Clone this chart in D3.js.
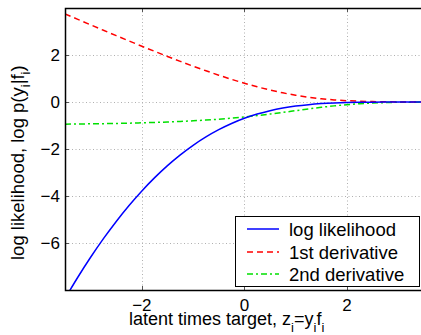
<!DOCTYPE html>
<html>
<head>
<meta charset="utf-8">
<script src="https://cdn.jsdelivr.net/npm/d3@7"></script>
<style>
body { margin: 0; background: #fff; }
svg text { font-family: "Liberation Sans", Arial, sans-serif; fill: #000; }
</style>
</head>
<body>
<div id="chart"></div>
<script>
// values
let zValues = [-3.5, -3.25, -3, -2.75, -2.5, -2.25, -2, -1.75, -1.5, -1.25, -1, -0.75, -0.5, -0.25,
	0, 0.25, 0.5, 0.75, 1, 1.25, 1.5, 1.75, 2, 2.25, 2.5, 2.75, 3, 3.25, 3.5];
let logLik = [-8.366, -7.458, -6.608, -5.816, -5.082, -4.404, -3.783, -3.217, -2.706, -2.248, -1.841, -1.484, -1.176, -0.913,
	-0.693, -0.513, -0.369, -0.257, -0.173, -0.112, -0.069, -0.041, -0.023, -0.012, -0.006, -0.003, -0.001, -0.001, 0];
let firstDeriv = [3.752, 3.516, 3.283, 3.052, 2.823, 2.597, 2.373, 2.154, 1.939, 1.729, 1.525, 1.329, 1.141, 0.964,
	0.798, 0.646, 0.509, 0.389, 0.288, 0.204, 0.139, 0.090, 0.055, 0.032, 0.018, 0.009, 0.004, 0.002, 0.001];
let secondDeriv = [-0.945, -0.935, -0.929, -0.922, -0.911, -0.901, -0.885, -0.870, -0.851, -0.828, -0.801, -0.769, -0.731, -0.688,
	-0.637, -0.579, -0.514, -0.444, -0.370, -0.297, -0.227, -0.165, -0.114, -0.073, -0.044, -0.025, -0.013, -0.007, -0.003];
let xTicks = [-2, 0, 2];
let yTicks = [-6, -4, -2, 0, 2];
let seriesNames = ["log likelihood", "1st derivative", "2nd derivative"];

var W = 421, H = 335;
var pLeft = 65, pTop = 8, pRight = 423.75, pBottom = 290;

var svg = d3.select("#chart").append("svg")
	.attr("width", W)
	.attr("height", H);

var x = d3.scaleLinear().domain([-3.5, 3.5]).range([pLeft, pRight]);
var y = d3.scaleLinear().domain([-8, 4]).range([pBottom, pTop]);

svg.append("clipPath").attr("id", "clip")
	.append("rect")
	.attr("x", pLeft).attr("y", pTop)
	.attr("width", pRight - pLeft).attr("height", pBottom - pTop);

// grid
var grid = svg.append("g").attr("stroke", "#b0b0b0").attr("stroke-width", 1).attr("stroke-dasharray", "1,2.5");
grid.selectAll(".gx").data(xTicks).enter().append("line")
	.attr("x1", d => Math.round(x(d)) + 0.5).attr("x2", d => Math.round(x(d)) + 0.5)
	.attr("y1", pTop).attr("y2", pBottom);
grid.selectAll(".gy").data(yTicks).enter().append("line")
	.attr("y1", d => Math.round(y(d)) + 0.5).attr("y2", d => Math.round(y(d)) + 0.5)
	.attr("x1", pLeft).attr("x2", pRight);

// tick marks (inside)
var ticks = svg.append("g").attr("stroke", "#555").attr("stroke-width", 1);
ticks.selectAll(".tx").data(xTicks).enter().append("line")
	.attr("x1", d => Math.round(x(d)) + 0.5).attr("x2", d => Math.round(x(d)) + 0.5)
	.attr("y1", pBottom).attr("y2", pBottom - 4);
ticks.selectAll(".tx2").data(xTicks).enter().append("line")
	.attr("x1", d => Math.round(x(d)) + 0.5).attr("x2", d => Math.round(x(d)) + 0.5)
	.attr("y1", pTop).attr("y2", pTop + 4);
ticks.selectAll(".ty").data(yTicks).enter().append("line")
	.attr("y1", d => Math.round(y(d)) + 0.5).attr("y2", d => Math.round(y(d)) + 0.5)
	.attr("x1", pLeft).attr("x2", pLeft + 4);

// curves
var colors = ["#0000ff", "#ff0000", "#00e000"];
var dashes = [null, "6,4", "6,3,2,3"];
var allSeries = [logLik, firstDeriv, secondDeriv];
var line = d3.line()
	.x((d, i) => x(zValues[i]))
	.y(d => y(d))
	.curve(d3.curveMonotoneX);

var curves = svg.append("g").attr("clip-path", "url(#clip)");
curves.selectAll("path").data([2, 1, 0]).enter().append("path")
	.attr("d", k => line(allSeries[k]))
	.attr("fill", "none")
	.attr("stroke", k => colors[k])
	.attr("stroke-width", 1.5)
	.attr("stroke-dasharray", k => dashes[k]);

// axes box
svg.append("path")
	.attr("d", "M" + pRight + "," + (pTop + 0.5) + "H" + (pLeft + 0.5) + "V" + (pBottom + 0.5) + "H" + pRight)
	.attr("fill", "none")
	.attr("stroke", "#000")
	.attr("stroke-width", 1.5);

// tick labels
var fmt = d => (d < 0 ? "\u2212" : "") + Math.abs(d);
svg.selectAll(".xl").data(xTicks).enter().append("text")
	.attr("x", d => x(d))
	.attr("y", 311)
	.attr("text-anchor", "middle")
	.attr("font-size", 17)
	.text(fmt);
svg.selectAll(".yl").data(yTicks).enter().append("text")
	.attr("x", 60)
	.attr("y", d => y(d) + 6)
	.attr("text-anchor", "end")
	.attr("font-size", 17)
	.text(fmt);

// axis titles
var xt = svg.append("text")
	.attr("x", 129)
	.attr("y", 325)
	.attr("font-size", 18);
xt.append("tspan").text("latent times target, z");
xt.append("tspan").attr("font-size", 13).attr("dy", 7).text("i");
xt.append("tspan").attr("dy", -7).text("=y");
xt.append("tspan").attr("font-size", 13).attr("dy", 7).text("i");
xt.append("tspan").attr("dy", -7).text("f");
xt.append("tspan").attr("font-size", 13).attr("dy", 7).text("i");

var yt = svg.append("text")
	.attr("transform", "translate(24,260) rotate(-90)")
	.attr("font-size", 18.5);
yt.append("tspan").text("log likelihood, log p(y");
yt.append("tspan").attr("font-size", 13).attr("dy", 6).text("i");
yt.append("tspan").attr("dy", -6).text("|f");
yt.append("tspan").attr("font-size", 13).attr("dy", 6).text("i");
yt.append("tspan").attr("dy", -6).text(")");

// legend
var lg = svg.append("g");
lg.append("rect")
	.attr("x", 235.5).attr("y", 216.5)
	.attr("width", 184).attr("height", 70)
	.attr("fill", "#fff")
	.attr("stroke", "#000")
	.attr("stroke-width", 1);
var rows = lg.selectAll(".row").data(seriesNames).enter().append("g")
	.attr("transform", (d, i) => "translate(0," + [229, 252, 274][i] + ")");
rows.append("line")
	.attr("x1", 247).attr("x2", 279)
	.attr("stroke", (d, i) => colors[i])
	.attr("stroke-width", 1.5)
	.attr("stroke-dasharray", (d, i) => dashes[i]);
rows.append("text")
	.attr("x", 289)
	.attr("y", 6.5)
	.attr("font-size", 18.5)
	.text(d => d);
</script>
</body>
</html>
